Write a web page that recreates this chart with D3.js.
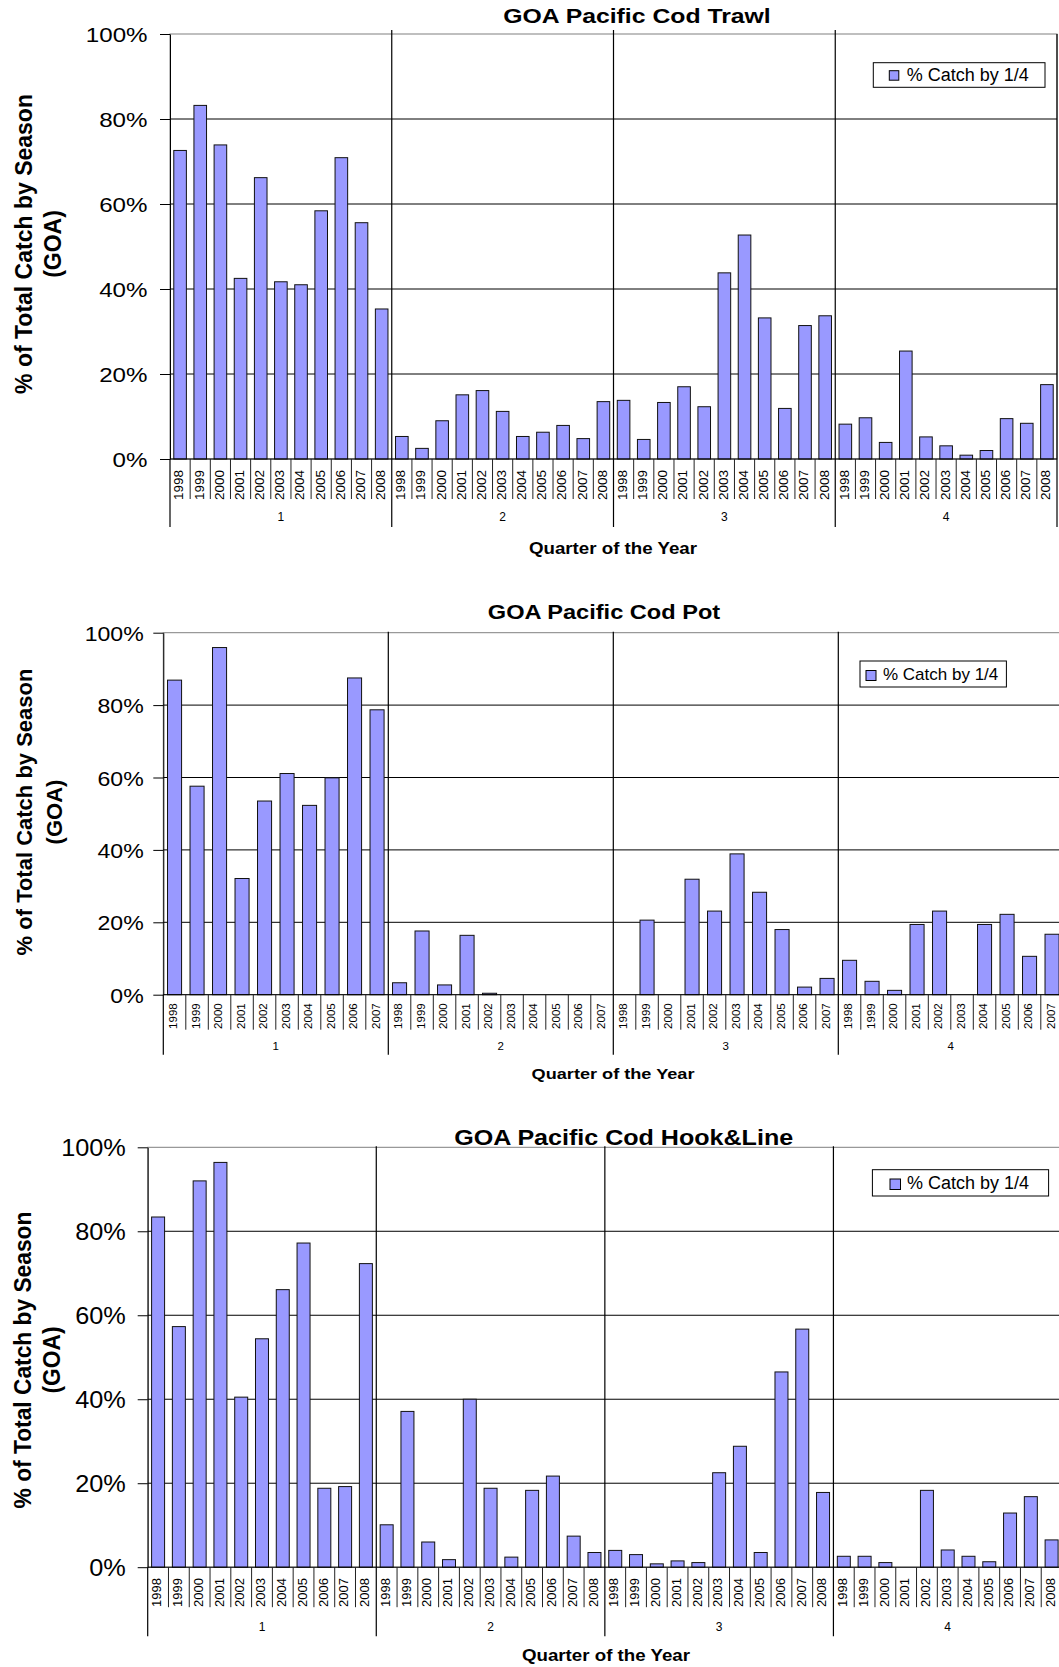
<!DOCTYPE html>
<html>
<head>
<meta charset="utf-8">
<script src="https://cdn.jsdelivr.net/npm/d3@7"></script>
<style>
  html, body { margin: 0; padding: 0; background: #fff; }
  svg { display: block; }
  text { font-family: "Liberation Sans", Arial, Helvetica, sans-serif; fill: #000; }
</style>
</head>
<body>
<svg id="chart" width="1059" height="1667"></svg>
<script>
// ---- data: share of annual catch (%) landed in each quarter, by year ----
const quarters = ["1", "2", "3", "4"];
const years98to08 = ["1998", "1999", "2000", "2001", "2002", "2003", "2004", "2005", "2006", "2007", "2008"];
const years98to07 = ["1998", "1999", "2000", "2001", "2002", "2003", "2004", "2005", "2006", "2007"];

const trawlQ1 = [72.6, 83.2, 73.9, 42.5, 66.2, 41.7, 41.0, 58.4, 70.9, 55.6, 35.3];
const trawlQ2 = [5.3, 2.5, 9.0, 15.1, 16.1, 11.2, 5.3, 6.3, 7.9, 4.8, 13.5];
const trawlQ3 = [13.8, 4.6, 13.3, 17.0, 12.3, 43.8, 52.7, 33.2, 11.9, 31.4, 33.7];
const trawlQ4 = [8.2, 9.7, 3.9, 25.4, 5.2, 3.1, 0.9, 2.0, 9.5, 8.4, 17.5];

const potQ1 = [86.9, 57.6, 95.9, 32.1, 53.5, 61.1, 52.3, 59.9, 87.5, 78.7];
const potQ2 = [3.3, 17.6, 2.7, 16.4, 0.4, 0, 0, 0, 0, 0];
const potQ3 = [0, 20.6, 0, 31.9, 23.1, 38.9, 28.3, 18.0, 2.1, 4.5];
const potQ4 = [9.5, 3.7, 1.2, 19.4, 23.1, 0, 19.4, 22.2, 10.6, 16.7];

const hookQ1 = [83.4, 57.3, 92.0, 96.4, 40.5, 54.4, 66.1, 77.2, 18.8, 19.2, 72.3];
const hookQ2 = [10.1, 37.1, 6.0, 1.8, 40.0, 18.8, 2.4, 18.3, 21.7, 7.4, 3.5];
const hookQ3 = [4.0, 3.0, 0.8, 1.5, 1.1, 22.5, 28.8, 3.5, 46.5, 56.7, 17.8];
const hookQ4 = [2.6, 2.6, 1.1, 0, 18.3, 4.1, 2.6, 1.3, 12.9, 16.8, 6.5];

const yTicks = [0, 0.2, 0.4, 0.6, 0.8, 1.0];
const legendLabel = "% Catch by 1/4";
const xAxisTitle = "Quarter of the Year";
const yAxisTitle = ["% of Total Catch by Season", "(GOA)"];

// ---- panel layout ----
const panels = [
  {
    title: "GOA Pacific Cod Trawl",
    years: years98to08,
    series: [trawlQ1, trawlQ2, trawlQ3, trawlQ4],
    L: {
      left: 170, right: 1057, top: 34, bottom: 459, rise: 4,
      title: { x: 637, y: 23.3, size: 21, sx: 1.18 },
      yTitle: { x1: 31.5, x2: 61, cy: 244, size: 23, sx: 1.0 },
      tick: { size: 21, gap: 22.5, sx: 1.15 },
      legend: { x: 873.3, y: 62.7, w: 171.7, h: 24.6, swX: 889.3, swY: 70.7, sw: 9.5, textX: 906.7, size: 18 },
      yearFont: 13.5, yearTop: 11, catSep: 40, qLabel: 58, qFont: 12, qSep: 68,
      xTitle: { x: 613, dy: 95, size: 16, sx: 1.17 }
    }
  },
  {
    title: "GOA Pacific Cod Pot",
    years: years98to07,
    series: [potQ1, potQ2, potQ3, potQ4],
    L: {
      left: 163.3, right: 1063.3, top: 632.7, bottom: 994.7, rise: 1,
      title: { x: 604, y: 619.3, size: 20, sx: 1.18 },
      yTitle: { x1: 32, x2: 62, cy: 812, size: 22, sx: 1.0 },
      tick: { size: 21, gap: 19.6, sx: 1.1 },
      legend: { x: 860, y: 661, w: 146.4, h: 26, swX: 866, swY: 670.5, sw: 10, textX: 883, size: 17 },
      yearFont: 11.5, yearTop: 8.6, catSep: 35, qLabel: 51, qFont: 11.5, qSep: 60,
      xTitle: { x: 613, dy: 84.5, size: 15.5, sx: 1.17 }
    }
  },
  {
    title: "GOA Pacific Cod Hook&Line",
    years: years98to08,
    series: [hookQ1, hookQ2, hookQ3, hookQ4],
    L: {
      left: 147.7, right: 1062, top: 1147.3, bottom: 1567.2, rise: 1,
      title: { x: 623.7, y: 1144.5, size: 22, sx: 1.14 },
      yTitle: { x1: 30.5, x2: 60, cy: 1360, size: 23, sx: 0.99 },
      tick: { size: 23, gap: 21.9, sx: 1.1 },
      legend: { x: 872.4, y: 1169.7, w: 176.2, h: 26.3, swX: 890, swY: 1179, sw: 10.5, textX: 907, size: 18 },
      yearFont: 13, yearTop: 10.8, catSep: 40, qLabel: 59.5, qFont: 12, qSep: 69,
      xTitle: { x: 606, dy: 94, size: 16, sx: 1.17 }
    }
  }
];

const svg = d3.select("#chart");
const BAR_FILL = "#9999ff";

// text drawn with a horizontal stretch around its anchor point
function wideText(parent, x, y, str, size, sx, opts = {}) {
  return parent.append("text")
    .attr("transform", `translate(${x},${y})${opts.rotate ? ` rotate(${opts.rotate})` : ""} scale(${sx},1)`)
    .attr("text-anchor", opts.anchor || "middle")
    .attr("font-size", size)
    .attr("font-weight", opts.bold ? "bold" : "normal")
    .text(str);
}

function drawPanel(p) {
  const L = p.L;
  const g = svg.append("g");

  const rows = quarters.flatMap((q, qi) =>
    p.years.map((yr, yi) => ({ key: q + "|" + yr, q, year: yr, value: p.series[qi][yi] / 100 })));

  const x = d3.scaleBand().domain(rows.map(d => d.key)).range([L.left, L.right])
    .paddingInner(0.375).paddingOuter(0.1875);
  const xq = d3.scaleBand().domain(quarters).range([L.left, L.right]);
  const y = d3.scaleLinear().domain([0, 1]).range([L.bottom, L.top]);
  const step = x.step();
  const boundary = d => x(d.key) + x.bandwidth() / 2 - step / 2;

  // plot frame
  g.append("rect")
    .attr("x", L.left).attr("y", y(1))
    .attr("width", L.right - L.left).attr("height", y(0) - y(1))
    .attr("fill", "none").attr("stroke", "#808080").attr("stroke-width", 1);

  // horizontal gridlines
  g.append("g").selectAll("line")
    .data(yTicks.filter(t => t > 0 && t < 1))
    .join("line")
    .attr("x1", L.left).attr("x2", L.right)
    .attr("y1", d => y(d)).attr("y2", d => y(d))
    .attr("stroke", "#000").attr("stroke-width", 1);

  // quarter dividers through plot and axis area
  const qEdges = quarters.slice(1).map(q => xq(q)).concat([L.right]);
  g.append("g").selectAll("line")
    .data(qEdges)
    .join("line")
    .attr("x1", d => d).attr("x2", d => d)
    .attr("y1", (d, i) => i < qEdges.length - 1 ? y(1) - L.rise : y(1))
    .attr("y2", y(0) + L.qSep)
    .attr("stroke", "#000").attr("stroke-width", 1.2);

  // bars
  g.append("g").selectAll("rect")
    .data(rows.filter(d => d.value > 0))
    .join("rect")
    .attr("x", d => x(d.key)).attr("width", x.bandwidth())
    .attr("y", d => y(d.value)).attr("height", d => y(0) - y(d.value))
    .attr("fill", BAR_FILL).attr("stroke", "#111").attr("stroke-width", 1);

  // value axis
  const yAxis = d3.axisLeft(y).tickValues(yTicks).tickFormat(d3.format(".0%"))
    .tickSize(10).tickSizeOuter(0).tickPadding(L.tick.gap - 10);
  const ya = g.append("g").attr("transform", `translate(${L.left},0)`).call(yAxis);
  ya.select(".domain").attr("stroke", "#000");
  ya.selectAll(".tick line").attr("stroke", "#000");
  ya.selectAll(".tick text")
    .attr("x", null)
    .attr("transform", `translate(${-L.tick.gap},0) scale(${L.tick.sx},1)`)
    .attr("dy", "0.36em")
    .attr("font-size", L.tick.size)
    .attr("font-family", null)
    .attr("fill", "#000");
  ya.attr("font-family", null).attr("font-size", null);

  // category axis baseline
  g.append("line")
    .attr("x1", L.left).attr("x2", L.right)
    .attr("y1", y(0)).attr("y2", y(0))
    .attr("stroke", "#000").attr("stroke-width", 1);

  // left axis continues down into the quarter band
  g.append("line")
    .attr("x1", L.left).attr("x2", L.left)
    .attr("y1", y(0)).attr("y2", y(0) + L.qSep)
    .attr("stroke", "#000").attr("stroke-width", 1.2);

  // separators between year categories
  g.append("g").selectAll("line")
    .data(rows.filter(d => d.year !== p.years[0]))
    .join("line")
    .attr("x1", boundary).attr("x2", boundary)
    .attr("y1", y(0)).attr("y2", y(0) + L.catSep)
    .attr("stroke", "#222").attr("stroke-width", 1);

  // year labels, rotated
  g.append("g").selectAll("text")
    .data(rows)
    .join("text")
    .attr("transform", d => `translate(${x(d.key) + x.bandwidth() / 2 + 0.25 * L.yearFont},${y(0) + L.yearTop}) rotate(-90)`)
    .attr("text-anchor", "end")
    .attr("font-size", L.yearFont)
    .text(d => d.year);

  // quarter labels
  g.append("g").selectAll("text")
    .data(quarters)
    .join("text")
    .attr("x", d => xq(d) + xq.bandwidth() / 2)
    .attr("y", y(0) + L.qLabel)
    .attr("dy", "0.35em")
    .attr("text-anchor", "middle")
    .attr("font-size", L.qFont)
    .text(d => d);

  // titles
  wideText(g, L.title.x, L.title.y, p.title, L.title.size, L.title.sx, { bold: true });
  wideText(g, L.xTitle.x, y(0) + L.xTitle.dy, xAxisTitle, L.xTitle.size, L.xTitle.sx, { bold: true });
  wideText(g, L.yTitle.x1, L.yTitle.cy, yAxisTitle[0], L.yTitle.size, L.yTitle.sx, { bold: true, rotate: -90 });
  wideText(g, L.yTitle.x2, L.yTitle.cy, yAxisTitle[1], L.yTitle.size, L.yTitle.sx, { bold: true, rotate: -90 });

  // legend
  const lg = g.append("g");
  lg.append("rect")
    .attr("x", L.legend.x).attr("y", L.legend.y)
    .attr("width", L.legend.w).attr("height", L.legend.h)
    .attr("fill", "#fff").attr("stroke", "#000").attr("stroke-width", 1);
  lg.append("rect")
    .attr("x", L.legend.swX).attr("y", L.legend.swY)
    .attr("width", L.legend.sw).attr("height", L.legend.sw)
    .attr("fill", BAR_FILL).attr("stroke", "#000").attr("stroke-width", 1);
  lg.append("text")
    .attr("x", L.legend.textX)
    .attr("y", L.legend.y + L.legend.h / 2)
    .attr("dy", "0.36em")
    .attr("font-size", L.legend.size)
    .text(legendLabel);
}

panels.forEach(drawPanel);
</script>
</body>
</html>
